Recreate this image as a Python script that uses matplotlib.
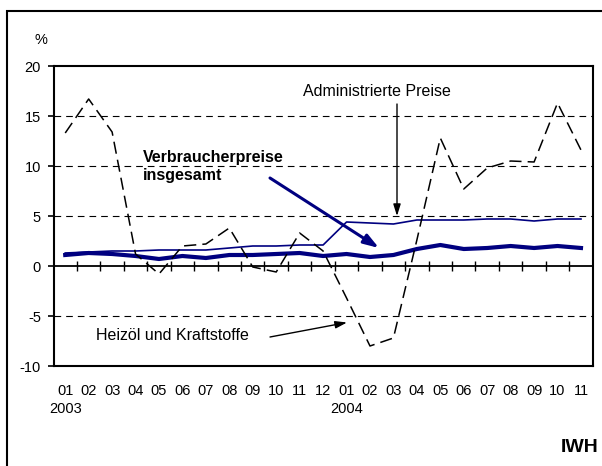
import matplotlib
matplotlib.use("Agg")
import matplotlib.pyplot as plt
from matplotlib.patches import Rectangle
import numpy as np

plt.rcParams['font.family'] = ['Liberation Sans', 'DejaVu Sans']

# ---- data ----
months = ["01", "02", "03", "04", "05", "06", "07", "08", "09", "10", "11", "12",
          "01", "02", "03", "04", "05", "06", "07", "08", "09", "10", "11"]
years = {0: "2003", 12: "2004"}
heizoel = [13.3, 16.7, 13.4, 1.2, -0.8, 2.0, 2.2, 3.8, -0.1, -0.6, 3.3, 1.5,
           -3.2, -8.0, -7.2, 2.6, 12.8, 7.7, 9.8, 10.5, 10.4, 16.3, 11.6]
administriert = [1.3, 1.4, 1.5, 1.5, 1.6, 1.6, 1.6, 1.8, 2.0, 2.0, 2.1, 2.1,
                 4.4, 4.3, 4.2, 4.6, 4.6, 4.6, 4.7, 4.7, 4.5, 4.7, 4.7]
gesamt = [1.1, 1.3, 1.2, 1.0, 0.7, 1.0, 0.8, 1.1, 1.1, 1.2, 1.3, 1.0,
          1.2, 0.9, 1.1, 1.7, 2.1, 1.7, 1.8, 2.0, 1.8, 2.0, 1.8]
yticks = [-10, -5, 0, 5, 10, 15, 20]

W, H = 602, 466
fig = plt.figure(figsize=(W / 100, H / 100), dpi=100)
ax = fig.add_axes([53.5 / W, 1 - 366 / H, (592.7 - 53.5) / W, 300 / H])

navy = "#000080"
x = np.arange(len(months))

# grid lines
for yv in [15, 10, 5, -5]:
    ax.axhline(yv, color="black", lw=0.8, dashes=(6, 4.5), zorder=1)
ax.axhline(0, color="black", lw=1.3, zorder=2)
# crossing ticks on zero line at category boundaries
ax.vlines(np.arange(1, len(months)) - 0.5, -0.5, 0.5, color="black", lw=1.0, zorder=2)

ax.plot(x, administriert, color=navy, lw=1.2, zorder=3)
ax.plot(x, gesamt, color=navy, lw=3.0, zorder=3, solid_joinstyle="round")
ax.plot(x, heizoel, color="black", lw=1.1, dashes=(8, 4), zorder=4)

ax.set_xlim(-0.5, len(months) - 0.5)
ax.set_ylim(-10, 20)
ax.set_yticks(yticks)
ax.set_yticklabels([str(v) for v in yticks], fontsize=10.5)
ax.tick_params(axis="y", direction="out", length=4, width=1.2, pad=5)

labels = [m + ("\n" + years[i] if i in years else "") for i, m in enumerate(months)]
ax.set_xticks(x)
ax.set_xticklabels(labels, fontsize=10.5, va="top", linespacing=1.35)
ax.tick_params(axis="x", length=0, pad=13)

for s in ax.spines.values():
    s.set_linewidth(1.5)
    s.set_color("black")

# annotations
def dx(px):
    return (px - 53.5) / ((592.7 - 53.5) / len(months)) - 0.5

def dy(py):
    return (266 - py) / 10.0

ax.text(dx(377), dy(92), "Administrierte Preise", fontsize=11.5, ha="center", va="center")
ax.annotate("", xy=(dx(397), dy(216)), xytext=(dx(397), dy(104)),
            arrowprops=dict(arrowstyle="-|>,head_length=0.7,head_width=0.22",
                            color="black", lw=1.0, shrinkA=0, shrinkB=0))

ax.text(dx(143), dy(166.5), "Verbraucherpreise\ninsgesamt", fontsize=11.5,
        fontweight="bold", ha="left", va="center", linespacing=1.3)
ax.annotate("", xy=(dx(379), dy(248)), xytext=(dx(270), dy(178)),
            arrowprops=dict(arrowstyle="-|>,head_length=0.9,head_width=0.3",
                            color=navy, lw=2.2, shrinkA=0, shrinkB=0))

ax.text(dx(96), dy(336), "Heizöl und Kraftstoffe", fontsize=11.5, ha="left", va="center")
ax.annotate("", xy=(dx(347), dy(322.5)), xytext=(dx(270), dy(337)),
            arrowprops=dict(arrowstyle="-|>,head_length=0.7,head_width=0.22",
                            color="black", lw=1.0, shrinkA=0, shrinkB=0))

fig.text(41 / W, 1 - 40 / H, "%", fontsize=10.5, ha="center", va="center")
fig.text(599 / W, 1 - 447 / H, "IWH", fontsize=14, fontweight="bold", ha="right", va="center")

# outer frame (extends beyond bottom and right edge)
fig.add_artist(Rectangle((7 / W, -0.1), 1.2, 1.1 - 10.5 / H, transform=fig.transFigure,
                         fill=False, lw=1.5, edgecolor="black", clip_on=False))

fig.savefig("out.png", dpi=100)
